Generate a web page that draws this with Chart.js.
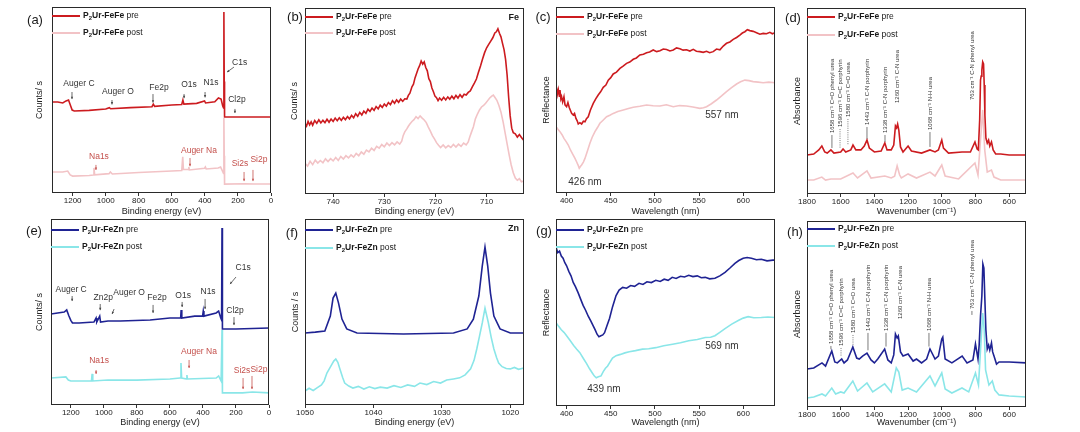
<!DOCTYPE html>
<html><head><meta charset="utf-8">
<script src="https://cdn.jsdelivr.net/npm/chart.js@4.4.1/dist/chart.umd.min.js"></script>
<style>
html,body{margin:0;padding:0;background:#fff;width:1080px;height:432px;overflow:hidden}
.cell{position:absolute}
</style></head><body>
<div class="cell" style="left:0px;top:0px;width:280px;height:216px"><canvas id="pa"></canvas></div>
<div class="cell" style="left:280px;top:0px;width:253px;height:216px"><canvas id="pb"></canvas></div>
<div class="cell" style="left:533px;top:0px;width:250px;height:216px"><canvas id="pc"></canvas></div>
<div class="cell" style="left:783px;top:0px;width:297px;height:216px"><canvas id="pd"></canvas></div>
<div class="cell" style="left:0px;top:216px;width:280px;height:216px"><canvas id="pe"></canvas></div>
<div class="cell" style="left:280px;top:216px;width:253px;height:216px"><canvas id="pf"></canvas></div>
<div class="cell" style="left:533px;top:216px;width:250px;height:216px"><canvas id="pg"></canvas></div>
<div class="cell" style="left:783px;top:216px;width:297px;height:216px"><canvas id="ph"></canvas></div>
<script>
// ---------- tick labels ----------
const ticksSurvey = [1200, 1000, 800, 600, 400, 200, 0];
const ticksFe = [740, 730, 720, 710];
const ticksUV = [400, 450, 500, 550, 600];
const ticksIR = [1800, 1600, 1400, 1200, 1000, 800, 600];
const ticksZn = [1050, 1040, 1030, 1020];

// ---------- series (x, relative intensity) ----------
const surveyFeFePre = [[1325,48.9],[1290,48.9],[1260,48.4],[1240,49.5],[1225,50.0],[1212,46.8],[1203,44.6],[1190,44.1],[1100,44.4],[1000,45.2],[978,45.9],[970,45.3],[850,45.9],[720,46.4],[712,47.8],[704,46.6],[600,47.3],[540,47.6],[533,50.0],[527,47.8],[450,48.2],[402,49.5],[396,48.4],[340,49.0],[318,51.1],[302,50.5],[292,46.8],[287,45.7],[285,97.3],[283,60.0],[281,40.9],[200,40.9],[100,40.9],[0,40.9]];
const surveyFeFePost = [[1325,11.3],[1260,11.3],[1230,11.8],[1215,9.7],[1200,9.1],[1100,9.4],[1075,9.7],[1071,13.5],[1067,9.8],[980,10.4],[972,11.3],[960,10.2],[800,11.0],[600,11.8],[540,12.1],[534,19.4],[530,12.6],[500,12.6],[497,14.0],[494,12.4],[402,13.3],[397,14.0],[392,12.9],[320,13.4],[305,14.0],[292,11.5],[287,10.5],[285,40.3],[283,20.0],[281,4.8],[160,5.0],[100,4.8],[0,4.8]];

const fe2pPre = [[745.5,38.0],[745.2,36.5],[744.9,39.0],[744.6,37.2],[744.3,38.8],[744.0,37.0],[743.6,39.5],[743.2,38.0],[742.8,39.9],[742.4,38.2],[742.0,39.6],[741.6,38.4],[741.2,40.2],[740.8,38.6],[740.4,40.3],[740.0,39.0],[739.6,40.8],[739.2,39.4],[738.8,41.0],[738.4,39.6],[738.0,41.2],[737.6,40.0],[737.2,41.6],[736.8,40.4],[736.4,42.3],[736.0,41.0],[735.6,43.2],[735.2,41.8],[734.8,43.9],[734.4,42.5],[734.0,44.6],[733.6,43.4],[733.2,45.6],[732.8,44.4],[732.4,46.2],[732.0,45.0],[731.6,47.0],[731.2,45.8],[730.8,47.8],[730.4,46.6],[730.0,48.4],[729.6,47.2],[729.2,49.2],[728.8,48.0],[728.4,50.2],[728.0,48.8],[727.6,50.6],[727.2,49.3],[726.8,51.0],[726.4,49.8],[726.0,51.2],[725.6,51.0],[725.3,53.0],[725.0,54.2],[724.6,57.6],[724.3,59.0],[724.0,62.4],[723.7,64.8],[723.4,67.2],[723.1,69.0],[722.8,71.5],[722.5,69.8],[722.2,71.0],[721.9,68.0],[721.6,66.2],[721.3,62.0],[721.0,60.4],[720.7,57.0],[720.4,55.0],[720.1,52.6],[719.8,51.8],[719.5,50.2],[719.2,51.6],[718.8,50.4],[718.4,52.0],[718.0,50.6],[717.6,52.2],[717.2,51.0],[716.8,52.6],[716.4,51.2],[716.0,53.0],[715.6,51.6],[715.2,53.4],[714.8,52.0],[714.4,53.6],[714.0,53.2],[713.6,54.6],[713.2,55.4],[712.8,57.6],[712.4,59.6],[712.0,61.8],[711.6,65.4],[711.2,68.8],[710.8,72.6],[710.4,76.0],[710.0,78.6],[709.6,80.4],[709.2,82.2],[708.8,84.0],[708.4,86.6],[708.1,87.2],[707.8,88.8],[707.5,86.4],[707.2,84.5],[706.9,81.0],[706.6,77.6],[706.3,72.4],[706.0,64.0],[705.7,52.0],[705.4,42.0],[705.1,35.4],[704.8,33.0],[704.4,32.4],[704.0,30.6],[703.6,32.0],[703.2,30.4],[702.9,29.4],[702.7,30.2]];
const fe2pPost = [[745.5,16.5],[745.0,15.0],[744.5,17.6],[744.0,15.8],[743.5,18.2],[743.0,16.6],[742.5,18.0],[742.0,16.8],[741.5,18.9],[741.0,17.4],[740.5,19.0],[740.0,17.8],[739.5,19.6],[739.0,18.0],[738.5,20.2],[738.0,18.8],[737.5,20.6],[737.0,19.4],[736.5,21.0],[736.0,19.8],[735.5,21.8],[735.0,20.6],[734.5,22.6],[734.0,21.4],[733.5,23.6],[733.0,22.6],[732.5,24.6],[732.0,23.4],[731.5,25.6],[731.0,24.6],[730.5,26.6],[730.0,25.4],[729.5,27.4],[729.0,26.0],[728.5,27.6],[728.0,26.4],[727.5,28.0],[727.0,26.8],[726.6,28.4],[726.3,31.5],[726.0,33.4],[725.6,35.0],[725.3,36.4],[725.0,37.6],[724.6,39.0],[724.2,40.0],[723.8,41.6],[723.4,40.6],[723.0,42.0],[722.6,40.8],[722.2,39.8],[721.8,38.4],[721.4,36.0],[721.0,33.8],[720.6,31.4],[720.2,29.6],[719.8,27.6],[719.4,26.2],[719.0,25.0],[718.5,26.4],[718.0,24.8],[717.5,26.0],[717.0,25.0],[716.5,26.6],[716.0,25.2],[715.5,26.8],[715.0,25.6],[714.5,27.4],[714.0,26.4],[713.6,28.0],[713.3,30.6],[713.0,33.0],[712.6,36.0],[712.2,40.4],[711.8,43.0],[711.4,45.2],[711.0,46.8],[710.6,47.6],[710.2,48.8],[709.8,50.2],[709.4,51.6],[709.0,52.6],[708.7,53.2],[708.4,52.0],[708.0,50.4],[707.6,47.6],[707.2,44.0],[706.8,39.0],[706.4,33.0],[706.0,27.0],[705.6,21.0],[705.2,15.6],[704.8,11.4],[704.4,8.6],[704.0,7.4],[703.6,8.2],[703.2,6.6],[702.7,7.0]];

const uvFeFePre = [[388,58.1],[389.5,53.0],[390.6,55.6],[391.8,52.0],[392.5,55.4],[393.5,50.6],[394.3,51.8],[395.5,49.0],[397,51.8],[398.2,47.4],[400,46.4],[401.5,48.6],[403,46.0],[404.5,44.2],[405.7,42.8],[407.5,41.9],[409,42.8],[410.6,40.1],[412,38.8],[413.2,37.1],[415,37.8],[417,37.1],[419,38.6],[420.8,38.3],[422.5,40.0],[424.5,41.0],[427,44.6],[430.2,48.2],[433,50.6],[435.8,52.7],[438.5,54.4],[441.5,56.8],[444.5,58.0],[447.2,60.7],[450,62.0],[452.8,64.0],[456.5,65.0],[460.4,67.0],[464,68.2],[467.9,69.7],[471.5,70.4],[475.5,71.9],[479,72.6],[483,74.2],[487,74.6],[490.6,75.4],[494,75.8],[498.1,76.9],[502,76.0],[505.7,76.5],[509.5,77.4],[513.2,77.2],[517,76.4],[520.8,76.9],[524.5,78.0],[528.3,77.6],[532,76.8],[535.8,77.0],[539.6,76.3],[543.4,77.2],[547,76.2],[550.9,76.0],[554.7,75.6],[558.5,76.2],[562,75.4],[566,76.0],[569.8,77.4],[573.6,77.0],[577.4,79.0],[581.1,80.5],[584.9,81.2],[588.7,82.6],[592.5,83.6],[596.2,84.9],[599,86.0],[601.9,86.7],[604.7,87.8],[607.5,87.3],[611.3,86.9],[615.1,86.2],[618.9,85.4],[622.6,85.8],[626.4,85.6],[630.2,86.4],[633,85.6],[636,86.2]];
const uvFeFePost = [[388,35.7],[390,34.4],[392.5,33.0],[395,31.2],[397,29.4],[399.5,27.6],[401.9,25.8],[404.5,23.0],[407.5,20.4],[409.5,18.6],[411.3,16.8],[413,15.0],[414.3,13.3],[415.8,14.4],[417,15.1],[419,16.6],[420.8,18.6],[423.5,22.4],[426.4,26.7],[429,30.0],[432.1,33.0],[435,35.2],[437.7,37.5],[441,39.0],[445.3,41.0],[449,41.8],[452.8,42.8],[458,43.8],[464.2,44.6],[470,45.4],[475.5,46.1],[483,46.6],[490.6,47.3],[498,46.9],[505.7,46.8],[513,47.4],[520.8,46.4],[528,47.0],[535.8,46.8],[543,46.2],[550.9,45.5],[555,45.8],[558.5,46.4],[564,48.0],[569.8,50.0],[575.5,52.2],[581.1,54.5],[586.8,56.6],[592.5,58.6],[597,59.8],[601.9,60.7],[606.5,60.4],[611.3,59.9],[617,59.6],[622.6,59.3],[629,59.6],[636,59.3]];

const irFeFePre = [[1800,21.0],[1760,21.5],[1730,23.7],[1712,25.8],[1695,22.6],[1680,22.0],[1658,23.7],[1640,22.0],[1600,22.6],[1586,24.2],[1570,22.6],[1540,23.7],[1527,26.3],[1510,23.7],[1480,23.7],[1460,25.8],[1444,29.0],[1430,24.7],[1400,22.6],[1360,23.1],[1338,27.4],[1325,23.7],[1300,23.7],[1285,26.3],[1275,36.6],[1268,35.5],[1262,37.6],[1255,34.4],[1245,25.3],[1230,22.6],[1200,25.8],[1180,23.1],[1120,22.0],[1070,23.7],[1040,22.6],[1020,23.7],[1000,29.0],[990,24.7],[960,22.0],[880,22.6],[830,22.6],[803,28.0],[790,24.2],[783,23.7],[775,39.8],[770,61.3],[766,63.4],[762,66.7],[757,71.0],[752,69.9],[748,58.6],[744,42.5],[738,30.1],[730,27.4],[722,29.0],[715,25.8],[705,28.0],[695,23.7],[680,21.5],[650,21.5],[600,21.0],[500,21.0]];
const irFeFePost = [[1800,7.5],[1760,7.5],[1712,9.1],[1690,7.5],[1658,8.1],[1600,8.1],[1527,11.3],[1500,8.6],[1444,12.4],[1420,8.6],[1338,9.7],[1300,8.6],[1280,9.6],[1265,15.1],[1250,10.2],[1240,8.6],[1200,10.8],[1150,8.6],[1070,11.8],[1040,9.7],[1000,15.6],[980,9.7],[900,8.1],[803,16.7],[785,10.2],[770,29.0],[757,45.2],[745,23.7],[730,11.8],[705,12.9],[690,9.1],[650,7.5],[500,7.5]];

const surveyFeZnPre = [[1320,48.9],[1280,49.5],[1240,50.0],[1225,51.1],[1212,48.0],[1200,45.5],[1190,44.1],[1150,44.1],[1060,44.6],[1047,46.8],[1043,44.6],[1025,47.8],[1020,44.6],[975,45.2],[900,45.2],[720,45.7],[600,46.8],[535,46.8],[532,51.1],[528,46.8],[450,47.8],[402,47.8],[398,50.5],[394,47.8],[320,49.5],[305,50.5],[292,46.8],[287,45.7],[284.5,95.2],[282,40.9],[200,40.9],[0,41.4]];
const surveyFeZnPost = [[1320,14.5],[1230,15.1],[1215,13.4],[1200,12.9],[1075,12.9],[1071,16.7],[1067,12.9],[975,13.4],[800,13.4],[600,14.0],[538,14.5],[533,22.6],[529,14.5],[500,14.0],[497,16.1],[494,14.0],[320,14.5],[305,15.6],[290,12.9],[284.5,40.3],[282,6.5],[160,6.5],[100,7.0],[0,6.5]];

const zn2pPre = [[1050,38.7],[1048.5,39.2],[1047.1,39.8],[1046.3,47.8],[1045.9,57.5],[1045.5,60.2],[1045.1,54.8],[1044.6,46.2],[1043.9,40.9],[1042.4,38.7],[1035.6,38.2],[1028.3,38.7],[1026.3,40.9],[1025.4,46.2],[1024.6,58.6],[1024.1,74.7],[1023.7,84.9],[1023.3,74.7],[1022.9,60.2],[1022.4,47.8],[1021.5,40.9],[1020,38.7],[1018,38.7]];
const zn2pPost = [[1050,7.5],[1049.4,9.0],[1048.8,7.8],[1048.3,9.1],[1047.6,10.8],[1047.2,13.0],[1046.8,17.2],[1046.2,21.0],[1045.8,23.6],[1045.5,24.7],[1045.2,23.0],[1044.9,19.4],[1044.5,14.8],[1044.2,11.8],[1043.6,10.2],[1043,9.1],[1042.2,10.0],[1041.4,8.6],[1040.6,9.8],[1039.8,8.8],[1039,9.6],[1038,9.1],[1037,10.4],[1036,9.4],[1035,10.8],[1034,10.0],[1033.2,11.8],[1032.2,11.0],[1031.2,12.6],[1030.2,11.8],[1029.3,13.4],[1028.3,14.0],[1027.4,14.6],[1026.6,16.2],[1025.8,19.4],[1025.3,24.0],[1024.9,30.1],[1024.5,37.0],[1024.1,44.1],[1023.7,52.1],[1023.2,44.1],[1022.8,36.5],[1022.4,30.1],[1022.0,25.4],[1021.7,22.6],[1021.2,20.6],[1020.6,19.6],[1020,19.4],[1019.4,20.2],[1018.8,19.2],[1018,19.9]];

const uvFeZnPre = [[388,84.9],[390,82.0],[392,82.8],[394,80.2],[396,79.0],[398,76.6],[400,75.0],[402.5,72.0],[405,69.6],[407.5,66.1],[410,63.8],[413,60.6],[416,57.0],[418.7,53.8],[421.5,51.2],[424.5,48.0],[427.5,45.4],[430,43.0],[432.5,40.6],[434.5,38.4],[436.6,37.1],[438.8,37.6],[441,38.0],[443,39.2],[445.5,42.6],[448.6,46.8],[452,53.0],[456,59.1],[459.5,62.0],[463.5,63.4],[468,63.0],[472.5,64.4],[477,64.0],[482,65.6],[486.5,65.0],[491,66.4],[496,66.0],[501,67.2],[506,66.6],[510.5,67.8],[515,67.2],[519.6,68.8],[524,68.2],[529,69.4],[533.5,69.0],[538.3,69.9],[543,69.2],[548,69.6],[552.5,68.6],[557,68.8],[562,68.0],[568,68.3],[573.5,69.6],[579.4,71.5],[585,73.8],[590.6,76.3],[595,77.8],[600,79.0],[604.5,79.4],[609.3,79.0],[615,78.2],[620.5,78.5],[627,77.6],[633.6,78.0],[636,78.0]];
const uvFeZnPost = [[388,44.6],[391,42.6],[394,40.8],[397,39.4],[400,37.6],[404,35.0],[408,32.4],[411.5,30.4],[415,28.5],[419,25.4],[422.5,22.8],[426,19.9],[429.5,17.4],[431.5,16.0],[433.6,15.1],[436,15.6],[439,16.1],[441.5,18.4],[444,20.2],[446.5,21.4],[448.6,23.1],[452,25.6],[456,26.9],[461,27.6],[466,28.4],[471,29.0],[478,29.6],[486,30.4],[493,30.6],[501,31.2],[510,32.2],[520,33.0],[529,33.8],[538.3,34.9],[548,35.6],[557,36.6],[563,36.8],[568,37.6],[573.5,39.4],[579.4,41.4],[587,43.8],[594.4,45.7],[600,47.0],[605.6,47.8],[612,47.2],[620.5,47.3],[628,47.6],[636,47.3]];

const irFeZnPre = [[1800,20.4],[1760,21.0],[1711,23.7],[1690,22.0],[1653,30.1],[1635,24.2],[1620,23.7],[1594,25.8],[1580,23.7],[1560,25.3],[1528,32.3],[1505,26.3],[1490,25.8],[1470,27.4],[1444,29.0],[1420,25.3],[1400,23.7],[1380,25.8],[1339,31.2],[1320,25.3],[1300,23.7],[1285,28.0],[1275,39.2],[1265,37.1],[1258,38.2],[1245,29.6],[1230,27.4],[1200,28.5],[1170,24.7],[1150,25.8],[1120,23.7],[1090,25.8],[1070,31.2],[1040,25.8],[1020,27.4],[1000,36.6],[994,37.6],[980,25.8],[940,23.7],[879,27.4],[850,23.7],[815,25.3],[800,33.9],[785,25.8],[778,33.3],[770,48.9],[762,59.7],[756,76.9],[750,74.7],[744,57.5],[738,41.4],[730,31.2],[722,33.3],[715,30.6],[705,34.4],[698,29.6],[690,27.4],[675,23.1],[660,24.2],[600,24.2],[500,23.7]];
const irFeZnPost = [[1800,4.8],[1760,5.4],[1711,7.0],[1690,5.9],[1653,10.2],[1630,7.0],[1600,8.1],[1580,7.5],[1528,14.0],[1500,8.6],[1444,12.9],[1410,8.1],[1339,12.4],[1300,8.1],[1270,21.0],[1255,18.8],[1235,9.1],[1200,10.2],[1150,8.1],[1070,16.7],[1040,11.3],[1000,18.3],[980,9.7],[940,7.5],[880,10.2],[840,8.1],[800,18.3],[782,11.8],[770,30.6],[757,50.5],[748,41.4],[740,19.9],[720,11.8],[700,14.0],[685,9.1],[660,6.5],[600,5.9],[500,5.4]];

// ---------- annotation texts (anchored in data coordinates) ----------
const surveyFeFeLabels = [
  {t:'Auger C', x:1162, y:58.6, a:[1204,54.3,1204,50.5]},
  {t:'Auger O', x:926, y:54.3, a:[962,50.0,962,47.6]},
  {t:'Fe2p', x:678, y:56.4, a:[714,53.2,714,48.6]},
  {t:'O1s', x:496, y:58.1, a:[526,53.2,526,51.0]},
  {t:'N1s', x:363, y:59.1, a:[399,54.3,399,51.4]},
  {t:'C1s', x:190, y:69.9, a:[224,67.7,266,65.0]},
  {t:'Cl2p', x:206, y:50.0, a:[218,45.2,218,43.0]},
  {t:'Na1s', x:1041, y:19.4, a:[1059,15.1,1059,12.4], red:true},
  {t:'Auger Na', x:436, y:22.6, a:[490,18.8,490,14.4], red:true},
  {t:'Si2s', x:188, y:15.6, a:[163,11.3,163,6.4], red:true},
  {t:'Si2p', x:73, y:17.7, a:[109,12.4,109,6.4], red:true}
];
const surveyFeZnLabels = [
  {t:'Auger C', x:1198, y:61.8, a:[1192,58.6,1192,55.9]},
  {t:'Zn2p', x:1004, y:57.5, a:[1022,54.3,1022,51.0]},
  {t:'Auger O', x:847, y:60.2, a:[938,51.6,950,48.9]},
  {t:'Fe2p', x:678, y:57.5, a:[702,53.8,702,49.5]},
  {t:'O1s', x:520, y:58.6, a:[526,55.4,526,52.7]},
  {t:'N1s', x:369, y:60.7, a:[387,57.0,387,51.6]},
  {t:'C1s', x:157, y:73.7, a:[200,68.8,236,65.0]},
  {t:'Cl2p', x:206, y:50.5, a:[212,47.3,212,43.0]},
  {t:'Na1s', x:1029, y:23.7, a:[1047,18.8,1047,16.7], red:true},
  {t:'Auger Na', x:424, y:28.5, a:[484,24.2,484,19.9], red:true},
  {t:'Si2s', x:163, y:18.3, a:[157,14.5,157,8.6], red:true},
  {t:'Si2p', x:61, y:18.8, a:[103,15.6,103,8.6], red:true}
];
const uvFeFeLabels = [{t:'557 nm', x:575.8, y:41.9}, {t:'426 nm', x:420.8, y:5.9}];
const uvFeZnLabels = [{t:'569 nm', x:575.8, y:31.7}, {t:'439 nm', x:442.3, y:9.1}];
const irFeFeLabels = [
  {t:'1658 cm⁻¹ C=O phenyl urea', x:1652, y:32.8, ly:24.7},
  {t:'1596 cm⁻¹ C=C porphyrin', x:1604, y:36.0, ly:24.7, dot:true},
  {t:'1580 cm⁻¹ C=O urea', x:1557, y:41.4, ly:26.3, dot:true},
  {t:'1443 cm⁻¹ C-N porphyrin', x:1444, y:37.1, ly:29.6},
  {t:'1338 cm⁻¹ C-N porphyrin', x:1337, y:32.8, ly:28.0},
  {t:'1260 cm⁻¹ C-N urea', x:1266, y:48.9},
  {t:'1068 cm⁻¹ N-H urea', x:1070, y:34.4, ly:25.3},
  {t:'763 cm⁻¹ C-N phenyl urea', x:821, y:50.5}
];
const irFeZnLabels = [
  {t:'1658 cm⁻¹ C=O phenyl urea', x:1658, y:33.9, ly:31.0},
  {t:'1596 cm⁻¹ C=C porphyrin', x:1598, y:32.8, ly:27.0, dot:true},
  {t:'1580 cm⁻¹ C=O urea', x:1527, y:39.8, ly:33.0, dot:true},
  {t:'1443 cm⁻¹ C-N porphyrin', x:1438, y:40.9, ly:30.5},
  {t:'1338 cm⁻¹ C-N porphyrin', x:1331, y:40.9, ly:32.5},
  {t:'1260 cm⁻¹ C-N urea', x:1248, y:47.3},
  {t:'1068 cm⁻¹ N-H urea', x:1076, y:40.9, ly:32.5},
  {t:'763 cm⁻¹ C-N phenyl urea', x:821, y:52.7, ly:49.5}
];

// ---------- styles ----------
const FONT = 'Arial, "Liberation Sans", sans-serif';
const FEFE = ['#cc1b1f', '#f2c3c6'];
const FEZN = ['#1f2393', '#8ae6e8'];
const RED_TXT = '#c4504c';

const panels = {
  pa: {cell:[0,0,280,216], box:[52,7,271,193], letter:'(a)', letterPos:[-17,13], yTitle:'Counts/ s', yOff:12,
       xTitle:'Binding energy (eV)', xmin:0, xmax:1325, reverse:true, ticks:ticksSurvey, metal:'FeFe', colors:FEFE,
       series:[surveyFeFePre, surveyFeFePost], labels:surveyFeFeLabels, legendY:[9,26], pb:0},
  pb: {cell:[280,0,533,216], box:[305,8,524,194], letter:'(b)', letterPos:[-10,9], yTitle:'Counts/ s', yOff:10,
       xTitle:'Binding energy (eV)', xmin:702.7, xmax:745.5, reverse:true, ticks:ticksFe, metal:'FeFe', colors:FEFE,
       series:[fe2pPre, fe2pPost], corner:'Fe', legendY:[9,25], pb:0},
  pc: {cell:[533,0,783,216], box:[556,7,775,193], letter:'(c)', letterPos:[-13,10], yTitle:'Reflectance', yOff:9,
       xTitle:'Wavelength (nm)', xmin:388, xmax:636, reverse:false, ticks:ticksUV, metal:'FeFe', colors:FEFE,
       series:[uvFeFePre, uvFeFePost], labels:uvFeFeLabels, labelSize:10, legendY:[10,27], pb:0},
  pd: {cell:[783,0,1080,216], box:[807,8,1026,194], letter:'(d)', letterPos:[-14,10], yTitle:'Absorbance', yOff:9,
       xTitle:'Wavenumber (cm⁻¹)', xmin:500, xmax:1800, reverse:true, ticks:ticksIR, metal:'FeFe', colors:FEFE,
       series:[irFeFePre, irFeFePost], vlabels:irFeFeLabels, legendY:[9,27], pb:0},
  pe: {cell:[0,216,280,432], box:[51,219,269,405], letter:'(e)', letterPos:[-17,12], yTitle:'Counts/ s', yOff:11,
       xTitle:'Binding energy (eV)', xmin:0, xmax:1320, reverse:true, ticks:ticksSurvey, metal:'FeZn', colors:FEZN,
       series:[surveyFeZnPre, surveyFeZnPost], labels:surveyFeZnLabels, legendY:[11,28], pb:4.5},
  pf: {cell:[280,216,533,432], box:[305,219,524,405], letter:'(f)', letterPos:[-13,14], yTitle:'Counts / s', yOff:9,
       xTitle:'Binding energy (eV)', xmin:1018, xmax:1050, reverse:true, ticks:ticksZn, metal:'FeZn', colors:FEZN,
       series:[zn2pPre, zn2pPost], corner:'Zn', legendY:[11,29], pb:4.5},
  pg: {cell:[533,216,783,432], box:[556,219,775,406], letter:'(g)', letterPos:[-12,12], yTitle:'Reflectance', yOff:9,
       xTitle:'Wavelength (nm)', xmin:388, xmax:636, reverse:false, ticks:ticksUV, metal:'FeZn', colors:FEZN,
       series:[uvFeZnPre, uvFeZnPost], labels:uvFeZnLabels, labelSize:10, legendY:[11,28], pb:4.5},
  ph: {cell:[783,216,1080,432], box:[807,221,1026,407], letter:'(h)', letterPos:[-12,11], yTitle:'Absorbance', yOff:9,
       xTitle:'Wavenumber (cm⁻¹)', xmin:500, xmax:1800, reverse:true, ticks:ticksIR, metal:'FeZn', colors:FEZN,
       series:[irFeZnPre, irFeZnPost], vlabels:irFeZnLabels, legendY:[8,25], pb:4.5}
};

function arrow(ctx, x1, y1, x2, y2, color) {
  ctx.strokeStyle = color; ctx.fillStyle = color; ctx.lineWidth = 0.8; ctx.setLineDash([]);
  ctx.beginPath(); ctx.moveTo(x1, y1); ctx.lineTo(x2, y2); ctx.stroke();
  const ang = Math.atan2(y2 - y1, x2 - x1), h = 2.6;
  ctx.beginPath(); ctx.moveTo(x2, y2);
  ctx.lineTo(x2 - h * Math.cos(ang - 0.45), y2 - h * Math.sin(ang - 0.45));
  ctx.lineTo(x2 - h * Math.cos(ang + 0.45), y2 - h * Math.sin(ang + 0.45));
  ctx.closePath(); ctx.fill();
}

const decor = {
  id: 'decor',
  afterDatasetsDraw(chart) {
    const cfg = panels[chart.canvas.id];
    const {ctx, chartArea: ca} = chart;
    const sx = chart.scales.x, sy = chart.scales.y;
    ctx.save();
    // frame
    ctx.strokeStyle = '#2a2a2a'; ctx.lineWidth = 1;
    ctx.strokeRect(ca.left + 0.5, ca.top + 0.5, ca.right - ca.left - 1, ca.bottom - ca.top - 1);
    // panel letter
    ctx.fillStyle = '#1a1a1a'; ctx.font = '13px ' + FONT; ctx.textAlign = 'center'; ctx.textBaseline = 'middle';
    ctx.fillText(cfg.letter, ca.left + cfg.letterPos[0], ca.top + cfg.letterPos[1]);
    // y title
    ctx.save();
    ctx.translate(ca.left - cfg.yOff, (ca.top + ca.bottom) / 2); ctx.rotate(-Math.PI / 2);
    ctx.font = '9px ' + FONT; ctx.fillStyle = '#222'; ctx.fillText(cfg.yTitle, 0, 0);
    ctx.restore();
    // legend
    ['pre', 'post'].forEach((state, i) => {
      const y = ca.top + cfg.legendY[i];
      ctx.strokeStyle = cfg.colors[i]; ctx.lineWidth = 2;
      ctx.beginPath(); ctx.moveTo(ca.left, y); ctx.lineTo(ca.left + 28, y); ctx.stroke();
      let x = ca.left + 31;
      ctx.fillStyle = '#1a1a1a'; ctx.textAlign = 'left'; ctx.textBaseline = 'middle';
      ctx.font = 'bold 8.5px ' + FONT; ctx.fillText('P', x, y); x += ctx.measureText('P').width;
      ctx.font = 'bold 6px ' + FONT; ctx.fillText('2', x, y + 2.5); x += ctx.measureText('2').width;
      ctx.font = 'bold 8.5px ' + FONT; const nm = 'Ur-' + cfg.metal; ctx.fillText(nm, x, y); x += ctx.measureText(nm).width;
      ctx.font = '8.5px ' + FONT; ctx.fillText(' ' + state, x, y);
    });
    // corner element label
    if (cfg.corner) {
      ctx.font = 'bold 9px ' + FONT; ctx.fillStyle = '#1a1a1a'; ctx.textAlign = 'right'; ctx.textBaseline = 'middle';
      ctx.fillText(cfg.corner, ca.right - 5, ca.top + 10);
    }
    // horizontal labels
    (cfg.labels || []).forEach(l => {
      const col = l.red ? RED_TXT : '#333';
      ctx.fillStyle = col; ctx.font = (cfg.labelSize || 8.5) + 'px ' + FONT;
      ctx.textAlign = 'center'; ctx.textBaseline = 'middle';
      ctx.fillText(l.t, sx.getPixelForValue(l.x), sy.getPixelForValue(l.y));
      if (l.a) arrow(ctx, sx.getPixelForValue(l.a[0]), sy.getPixelForValue(l.a[1]),
                     sx.getPixelForValue(l.a[2]), sy.getPixelForValue(l.a[3]), l.red ? RED_TXT : '#444');
    });
    // vertical labels
    (cfg.vlabels || []).forEach(l => {
      const px = sx.getPixelForValue(l.x), py = sy.getPixelForValue(l.y);
      ctx.save(); ctx.translate(px, py); ctx.rotate(-Math.PI / 2);
      ctx.font = '6px ' + FONT; ctx.fillStyle = '#333'; ctx.textAlign = 'left'; ctx.textBaseline = 'middle';
      ctx.fillText(l.t, 0, 0); ctx.restore();
      if (l.ly !== undefined) {
        ctx.strokeStyle = '#444'; ctx.lineWidth = 0.7; ctx.setLineDash(l.dot ? [1, 1.2] : []);
        ctx.beginPath(); ctx.moveTo(px, py + 2); ctx.lineTo(px, sy.getPixelForValue(l.ly)); ctx.stroke();
        ctx.setLineDash([]);
      }
    });
    ctx.restore();
  }
};

function makePanel(id) {
  const cfg = panels[id];
  const cell = cfg.cell, box = cfg.box;
  const xH = cell[3] - box[3];
  new Chart(document.getElementById(id), {
    type: 'line',
    data: {
      datasets: cfg.series.map((pts, i) => ({
        data: pts.map(p => ({x: p[0], y: p[1]})),
        borderColor: cfg.colors[i], borderWidth: 1.6, pointRadius: 0, fill: false, tension: 0
      }))
    },
    options: {
      responsive: true, maintainAspectRatio: false, animation: false,
      layout: {padding: {left: box[0] - cell[0], top: box[1] - cell[1], right: cell[2] - box[2], bottom: 0}},
      scales: {
        x: {
          type: 'linear', reverse: cfg.reverse, min: cfg.xmin, max: cfg.xmax,
          afterBuildTicks: s => { s.ticks = cfg.ticks.map(v => ({value: v})); },
          afterFit: s => { s.height = xH; },
          ticks: {font: {size: 8, family: FONT}, color: '#222', padding: 0, maxRotation: 0, autoSkip: false,
                  callback: v => String(v)},
          grid: {display: true, drawOnChartArea: false, drawTicks: true, tickLength: 3, color: '#333'},
          border: {display: false},
          title: {display: true, text: cfg.xTitle, color: '#222', font: {size: 9, family: FONT, lineHeight: 1},
                  padding: {top: 0, bottom: cfg.pb}}
        },
        y: {display: false, min: 0, max: 100}
      },
      plugins: {legend: {display: false}, tooltip: {enabled: false}}
    },
    plugins: [decor]
  });
}
Object.keys(panels).forEach(makePanel);
</script>
</body></html>
